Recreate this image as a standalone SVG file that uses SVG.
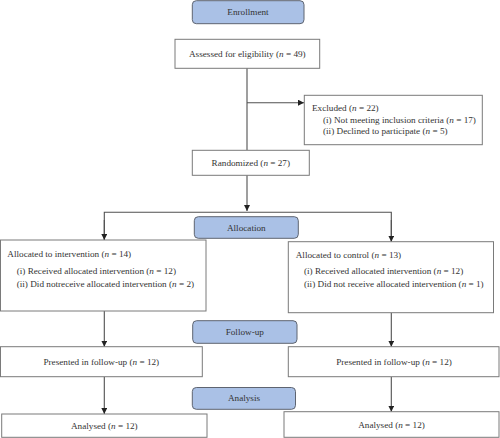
<svg xmlns="http://www.w3.org/2000/svg" width="500" height="438" viewBox="0 0 500 438">
<style>
.box{fill:#fff;stroke:#7a7a7a;stroke-width:1}
.hdr{fill:#aac1e6;stroke:#5e6470;stroke-width:1}
text{font-family:"Liberation Serif","Times New Roman",serif;font-size:9.2px;fill:#333}
.c{text-anchor:middle}
.ln{stroke:#505050;stroke-width:1.1;fill:none}
</style>
<defs>
<marker id="ah" viewBox="0 0 6 6" refX="6" refY="3" markerWidth="6" markerHeight="6" markerUnits="userSpaceOnUse" orient="auto">
<path d="M0,0 L6,3 L0,6 Z" fill="#222"/>
</marker>
</defs>
<rect width="500" height="438" fill="#fff"/>
<g id="connectors">
<line class="ln" x1="247" y1="68" x2="247" y2="150"/>
<line class="ln" x1="247" y1="102.7" x2="304" y2="102.7" marker-end="url(#ah)"/>
<line class="ln" x1="247" y1="175" x2="247" y2="211" marker-end="url(#ah)"/>
<polyline class="ln" points="104.3,240 104.3,212.3 391.3,212.3 391.3,241.7"/>
<line class="ln" x1="104.3" y1="220" x2="104.3" y2="240" marker-end="url(#ah)"/>
<line class="ln" x1="391.3" y1="220" x2="391.3" y2="241.7" marker-end="url(#ah)"/>
<line class="ln" x1="104.3" y1="311" x2="104.3" y2="346.7" marker-end="url(#ah)"/>
<line class="ln" x1="391.3" y1="312.7" x2="391.3" y2="346.7" marker-end="url(#ah)"/>
<line class="ln" x1="104.3" y1="376.7" x2="104.3" y2="414" marker-end="url(#ah)"/>
<line class="ln" x1="391.3" y1="376.7" x2="391.3" y2="411.7" marker-end="url(#ah)"/>
</g>
<g id="enrollment">
<rect class="hdr" x="192.3" y="0.7" width="111.7" height="23" rx="4"/>
<text class="c" x="248" y="15">Enrollment</text>
</g>
<g id="assessed">
<rect class="box" x="175" y="39.3" width="144.7" height="29"/>
<text class="c" x="247.3" y="56.5">Assessed for eligibility (<tspan font-style="italic">n</tspan> = 49)</text>
</g>
<g id="excluded">
<rect class="box" x="304.3" y="95.3" width="178" height="49.4"/>
<text x="312" y="111.3">Excluded (<tspan font-style="italic">n</tspan> = 22)</text>
<text x="323" y="122.5">(i) Not meeting inclusion criteria (<tspan font-style="italic">n</tspan> = 17)</text>
<text x="323" y="133.7">(ii) Declined to participate (<tspan font-style="italic">n</tspan> = 5)</text>
</g>
<g id="randomized">
<rect class="box" x="192.3" y="150.3" width="117" height="25"/>
<text class="c" x="250.8" y="165.7">Randomized (<tspan font-style="italic">n</tspan> = 27)</text>
</g>
<g id="allocation">
<rect class="hdr" x="194.3" y="216.7" width="104" height="21.6" rx="4"/>
<text class="c" x="246.3" y="230.5">Allocation</text>
</g>
<g id="intervention">
<rect class="box" x="0.5" y="240" width="205.5" height="71"/>
<text x="7.3" y="257">Allocated to intervention (<tspan font-style="italic">n</tspan> = 14)</text>
<text x="16.7" y="274">(i) Received allocated intervention (<tspan font-style="italic">n</tspan> = 12)</text>
<text x="16.7" y="286.7">(ii) Did notreceive allocated intervention (<tspan font-style="italic">n</tspan> = 2)</text>
</g>
<g id="control">
<rect class="box" x="288.3" y="241.7" width="205.2" height="71"/>
<text x="295.7" y="258">Allocated to control (<tspan font-style="italic">n</tspan> = 13)</text>
<text x="304" y="274">(i) Received allocated intervention (<tspan font-style="italic">n</tspan> = 12)</text>
<text x="304" y="286.7">(ii) Did not receive allocated intervention (<tspan font-style="italic">n</tspan> = 1)</text>
</g>
<g id="followup">
<rect class="hdr" x="192.7" y="320.7" width="104.3" height="22.6" rx="4"/>
<text class="c" x="244.8" y="335">Follow-up</text>
</g>
<g id="presented-left">
<rect class="box" x="0.5" y="346.7" width="201.8" height="30"/>
<text class="c" x="101.3" y="364.7">Presented in follow-up (<tspan font-style="italic">n</tspan> = 12)</text>
</g>
<g id="presented-right">
<rect class="box" x="288.3" y="346.7" width="210.7" height="30"/>
<text class="c" x="394" y="364.7">Presented in follow-up (<tspan font-style="italic">n</tspan> = 12)</text>
</g>
<g id="analysis">
<rect class="hdr" x="192.3" y="387.5" width="103.2" height="21.8" rx="4"/>
<text class="c" x="244" y="401.4">Analysis</text>
</g>
<g id="analysed-left">
<rect class="box" x="1.7" y="414" width="205.3" height="23.3"/>
<text class="c" x="104.3" y="428.7">Analysed (<tspan font-style="italic">n</tspan> = 12)</text>
</g>
<g id="analysed-right">
<rect class="box" x="284" y="411.7" width="215" height="25.6"/>
<text class="c" x="391.5" y="427.5">Analysed (<tspan font-style="italic">n</tspan> = 12)</text>
</g>
</svg>
